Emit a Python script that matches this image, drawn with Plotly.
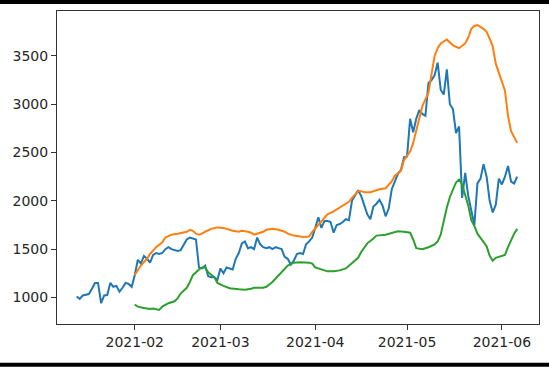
import datetime as dt
import plotly.graph_objects as go

# ---------------- data ----------------
start_date = "2021-01-13"

price = [
    1010, 985, 1020, 1025, 1035, 1090, 1150, 1150, 940, 1020,
    1025, 1150, 1110, 1120, 1060, 1100, 1150, 1140, 1110, 1230,
    1390, 1350, 1430, 1400, 1360, 1440, 1460, 1450, 1460, 1500,
    1520, 1500, 1490, 1480, 1490, 1540, 1600, 1620, 1610, 1600,
    1310, 1300, 1330, 1220, 1210, 1210, 1180, 1300, 1250, 1310,
    1300, 1290, 1400, 1460, 1560, 1580, 1510, 1520, 1500, 1620,
    1550, 1520, 1510, 1520, 1500, 1520, 1510, 1500, 1420, 1400,
    1340, 1380, 1450, 1460, 1450, 1550, 1580, 1620, 1720, 1830,
    1720, 1790, 1790, 1780, 1670, 1750, 1760, 1780, 1810, 1800,
    2000, 2060, 2110, 2050, 1950, 1860, 1810, 1940, 1970, 2010,
    1950, 1840, 1920, 2120, 2200, 2280, 2320, 2450, 2460, 2850,
    2710, 2850, 2940, 2900, 2880, 3220, 3250, 3300, 3430, 3150,
    3100, 3360, 3000, 2950, 2700, 2770, 2030, 2290, 2050, 1900,
    1750, 2180, 2230, 2380, 2250, 2000, 1880, 1960, 2230, 2170,
    2250, 2360, 2200, 2180, 2250,
]

upper_days = [19, 21, 23, 24, 26, 28, 29, 31, 33, 34, 36, 37, 38, 39, 40, 41, 42, 44, 46, 48,
              49, 51, 53, 54, 56, 57, 58, 59, 61, 62, 64, 66, 68, 69, 71, 73, 74, 76, 77, 79,
              81, 82, 84, 86, 88, 89, 90, 92, 93, 94, 96, 98, 99, 101, 103, 104, 106, 107, 109, 110,
              111, 112, 113, 115, 116, 117, 118, 119, 121, 122, 123, 125, 126, 127, 128, 129, 130, 131, 133, 134,
              135, 136, 137, 138, 140, 141, 142, 144]
upper = [1234, 1330, 1400, 1450, 1520, 1570, 1620, 1650, 1660, 1665, 1680, 1700, 1690, 1660, 1650, 1660, 1680, 1710, 1725, 1720,
         1710, 1690, 1680, 1690, 1680, 1670, 1650, 1660, 1680, 1700, 1710, 1700, 1680, 1660, 1640, 1630, 1625, 1630, 1680, 1750,
         1820, 1860, 1890, 1930, 1970, 1990, 2030, 2100, 2100, 2090, 2090, 2110, 2120, 2130, 2200, 2260, 2310, 2420, 2510, 2600,
         2720, 2840, 2980, 3120, 3300, 3500, 3580, 3630, 3670, 3640, 3610, 3580, 3610, 3630, 3690, 3780, 3810, 3820, 3780, 3750,
         3680, 3600, 3420, 3320, 3140, 2880, 2720, 2600]

lower_days = [19, 20, 22, 24, 25, 27, 28, 30, 32, 33, 34, 36, 37, 38, 40, 41, 42, 43, 45, 46,
              48, 50, 53, 55, 57, 58, 61, 62, 64, 66, 68, 69, 71, 73, 76, 77, 78, 80, 82, 84,
              86, 88, 90, 92, 93, 95, 97, 98, 101, 103, 105, 107, 109, 110, 111, 113, 115, 117, 118, 119,
              120, 121, 122, 123, 124, 125, 126, 127, 128, 129, 130, 131, 133, 134, 135, 136, 137, 139, 140, 141,
              142, 143, 144]
lower = [925, 905, 890, 880, 885, 870, 905, 940, 960, 990, 1040, 1100, 1160, 1230, 1290, 1310, 1310, 1260, 1210, 1150,
         1120, 1095, 1085, 1080, 1090, 1100, 1100, 1110, 1160, 1230, 1290, 1330, 1360, 1365, 1360, 1350, 1310, 1290, 1270, 1270,
         1280, 1300, 1360, 1410, 1470, 1560, 1610, 1640, 1650, 1670, 1685, 1680, 1670, 1600, 1510, 1500, 1520, 1550, 1580, 1650,
         1800, 1930, 2040, 2120, 2190, 2220, 2170, 2060, 1950, 1800, 1740, 1660, 1580, 1530, 1430, 1380, 1410, 1430, 1440, 1520,
         1600, 1660, 1710]

month_ticks = ["2021-02-01", "2021-03-01", "2021-04-01", "2021-05-01", "2021-06-01"]
month_labels = ["2021-02", "2021-03", "2021-04", "2021-05", "2021-06"]
y_ticks = [1000, 1500, 2000, 2500, 3000, 3500]

# ---------------- build ----------------
base = dt.datetime.strptime(start_date, "%Y-%m-%d")
price_x = [base + dt.timedelta(days=i) for i in range(len(price))]
upper_x = [base + dt.timedelta(days=d) for d in upper_days]
lower_x = [base + dt.timedelta(days=d) for d in lower_days]

fig = go.Figure()
fig.add_trace(go.Scatter(x=price_x, y=price, mode="lines",
                         line=dict(color="#1f77b4", width=2)))
fig.add_trace(go.Scatter(x=upper_x, y=upper, mode="lines",
                         line=dict(color="#ff7f0e", width=2)))
fig.add_trace(go.Scatter(x=lower_x, y=lower, mode="lines",
                         line=dict(color="#2ca02c", width=2)))

font = dict(family="DejaVu Sans", size=14, color="#262626")
axis_common = dict(showgrid=False, zeroline=False, showline=True, mirror=True,
                   linecolor="#333333", linewidth=1, ticks="outside", ticklen=5,
                   tickcolor="#333333", tickwidth=1, tickfont=font)

fig.update_xaxes(range=["2021-01-06 14:00", "2021-06-13 03:00"],
                 tickvals=month_ticks, ticktext=month_labels, **axis_common)
fig.update_yaxes(range=[725, 3965], tickvals=y_ticks, **axis_common)

# black bars at top and bottom of the screenshot
fig.add_shape(type="rect", xref="paper", yref="paper", x0=-0.2, x1=1.1,
              y0=1.0223, y1=1.0351, fillcolor="black", line_width=0, layer="above")
fig.add_shape(type="rect", xref="paper", yref="paper", x0=-0.2, x1=1.1,
              y0=-0.1235, y1=-0.1363, fillcolor="black", line_width=0, layer="above")

fig.update_layout(width=549, height=367, showlegend=False,
                  margin=dict(l=57, r=10, t=11, b=43),
                  paper_bgcolor="white", plot_bgcolor="white")

fig.write_html("out.html", config={"displayModeBar": False},
               post_script="document.body.style.margin='0';document.body.style.overflow='hidden';")
